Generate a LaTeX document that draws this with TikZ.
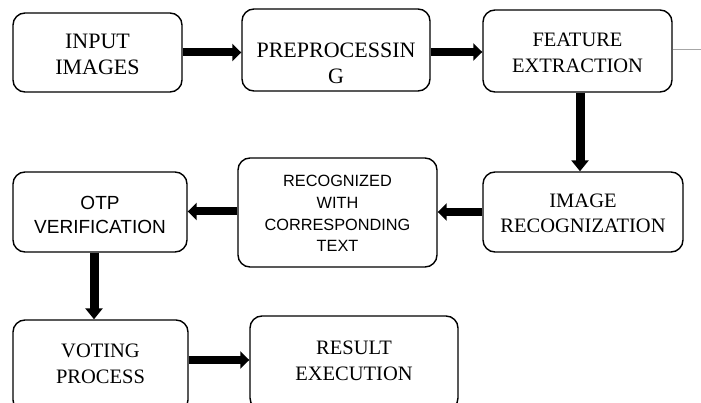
\documentclass[tikz,border=0pt]{standalone}
\usepackage{fontspec}
\setmainfont{Liberation Serif}
\newfontfamily\sansf{Liberation Sans}
\usetikzlibrary{arrows.meta,calc}
\begin{document}
\begin{tikzpicture}[x=1pt,y=-1pt,
  box/.style={draw=black,line width=1.4pt,rounded corners=12pt,minimum width=#1,inner sep=0pt},
  serifA/.style={font=\fontsize{22}{26}\selectfont,align=center,inner sep=0pt},
  serifB/.style={font=\fontsize{20.5}{25.5}\selectfont,align=center,inner sep=0pt},
  sansA/.style={font=\sansf\fontsize{19}{24}\selectfont,align=center,inner sep=0pt},
  sansB/.style={font=\sansf\fontsize{16.3}{21.7}\selectfont,align=center,inner sep=0pt},
  harrow/.style={line width=8pt,-{Triangle[width=17pt,length=9pt]}},
  varrow/.style={line width=9pt,-{Triangle[width=17pt,length=11pt]}}
]
\useasboundingbox (0,0) rectangle (701,403);
% boxes
\node[box=169pt,minimum height=79pt] (in)  at (97.5,52.5) {};
\node[box=188pt,minimum height=82pt] (pre) at (336,50) {};
\node[box=189pt,minimum height=82pt] (fea) at (577.5,51) {};
\node[box=200pt,minimum height=80pt] (img) at (583,212) {};
\node[box=199pt,minimum height=109pt] (rec) at (337.5,212.5) {};
\node[box=174pt,minimum height=80pt] (otp) at (100,212) {};
\node[box=175pt,minimum height=92pt] (vot) at (100.5,366) {};
\node[box=208pt,minimum height=94pt] (res) at (354,363) {};
% texts
\node[serifA] (tin)  at ([yshift=-2pt]in.center) {INPUT\\IMAGES};
\node[serifA] (tpre) at ([yshift=-13pt]pre.center) {PREPROCESSIN\\G};
\node[serifB] (tfea) at ([yshift=-2pt]fea.center) {FEATURE\\EXTRACTION};
\node[serifB] (timg) at ([yshift=-1.5pt]img.center) {IMAGE\\RECOGNIZATION};
\node[sansB]  (trec) at ([yshift=-1pt]rec.center) {RECOGNIZED\\WITH\\CORRESPONDING\\TEXT};
\node[sansA]  (totp) at ([yshift=-2.5pt]otp.center) {OTP\\VERIFICATION};
\node[serifB] (tvot) at ([yshift=2pt]vot.center) {VOTING\\PROCESS};
\node[serifB] (tres) at ([yshift=2pt]res.center) {RESULT\\EXECUTION};
% connectors
\coordinate (gEnd) at (701,50);
\draw[gray!70,line width=1pt] (fea.east |- gEnd) -- (gEnd);
\draw[harrow] (in.east) -- (in.east -| pre.west);
\draw[harrow] ([yshift=-2pt]pre.east) -- ([yshift=-2pt]pre.east -| fea.west);
\draw[varrow] ([xshift=2.5pt]fea.south) -- ([xshift=2.5pt]fea.south |- img.north);
\draw[harrow] (img.west) -- (img.west -| rec.east);
\draw[harrow] ([yshift=1pt]rec.west) -- ([yshift=1pt]rec.west -| otp.east);
\draw[varrow] ([xshift=-6pt]otp.south) -- ([xshift=-6pt]otp.south |- vot.north);
\draw[harrow] ([yshift=6pt]vot.east) -- ([yshift=6pt]vot.east -| res.west);
\end{tikzpicture}
\end{document}
